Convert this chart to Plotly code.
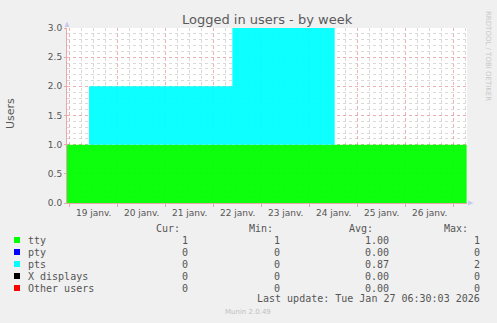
import plotly.graph_objects as go

# ---------------- data ----------------
times = ["2026-01-18 22:40", "2026-01-19 09:40", "2026-01-22 09:20",
         "2026-01-24 12:30", "2026-01-27 06:30"]
tty = [1, 1, 1, 1, 1]
pty = [0, 0, 0, 0, 0]
pts = [0, 1, 2, 0, 0]
xdisp = [0, 0, 0, 0, 0]
other = [0, 0, 0, 0, 0]

series_names = ["tty", "pty", "pts", "X displays", "Other users"]
series_colors = ["#00FF00", "#0000FF", "#00FFFF", "#000000", "#FF0000"]
fill_colors = ["rgba(0,255,0,0.95)", "rgba(0,0,255,0.95)", "rgba(0,255,255,0.95)",
               "rgba(0,0,0,0.95)", "rgba(255,0,0,0.95)"]
cur_vals = ["1", "0", "0", "0", "0"]
min_vals = ["1", "0", "0", "0", "0"]
avg_vals = ["1.00", "0.00", "0.87", "0.00", "0.00"]
max_vals = ["1", "0", "2", "0", "0"]

day_ticks = ["2026-01-%02d 12:00" % d for d in range(19, 27)]
day_labels = ["%d janv." % d for d in range(19, 27)]
x_range = ["2026-01-18 22:40", "2026-01-27 06:40"]

# ---------------- layout geometry ----------------
W, H = 497, 323
L, R, T, B = 67, 467, 28, 203
PW, PH = R - L, B - T


def px(x):
    return (x - L) / PW


def py(y):
    return (B - y) / PH


TXT = "#555555"
MONO = "DejaVu Sans Mono"
SANS = "DejaVu Sans"
MAJ = "rgba(225,120,120,0.6)"
MIN = "rgba(185,185,185,0.55)"

fig = go.Figure()
for name, vals, fc in zip(series_names, [tty, pty, pts, xdisp, other], fill_colors):
    fig.add_trace(go.Scatter(
        x=times, y=vals, name=name, mode="lines", stackgroup="one",
        line=dict(width=0, shape="hv"), fillcolor=fc, showlegend=False,
        hoverinfo="skip"))

# an invisible trace on the label axis so it renders
fig.add_trace(go.Scatter(x=x_range, y=[0, 0], xaxis="x2", mode="lines",
                         line=dict(width=0), showlegend=False, hoverinfo="skip"))

fig.update_layout(
    width=W, height=H,
    margin=dict(l=L, r=W - R, t=T, b=H - B, pad=0),
    paper_bgcolor="#F0F0F0", plot_bgcolor="#FFFFFF",
    showlegend=False,
    xaxis=dict(
        type="date", range=x_range, tick0="2026-01-19 00:00", dtick=86400000,
        showticklabels=False, ticks="outside", ticklen=3, tickcolor=MAJ,
        showgrid=True, gridcolor=MAJ, griddash="dot", gridwidth=1,
        minor=dict(dtick=21600000, tick0="2026-01-19 00:00", showgrid=True,
                   gridcolor=MIN, griddash="dot", gridwidth=1),
        showline=True, linecolor=MAJ, linewidth=1, zeroline=False, fixedrange=True,
    ),
    xaxis2=dict(
        type="date", range=x_range, overlaying="x", side="bottom",
        tickmode="array", tickvals=day_ticks, ticktext=day_labels,
        ticks="", showgrid=False, showline=False, zeroline=False,
        tickfont=dict(family=SANS, size=9, color=TXT), ticklabelstandoff=3,
    ),
    yaxis=dict(
        range=[0, 3], dtick=0.5, tickformat=".1f",
        tickfont=dict(family=SANS, size=9, color=TXT),
        ticks="outside", ticklen=2, tickcolor=MAJ,
        showgrid=True, gridcolor=MAJ, griddash="dot", gridwidth=1,
        minor=dict(dtick=0.1, showgrid=True, gridcolor=MIN, griddash="dot", gridwidth=1),
        showline=True, linecolor=MAJ, linewidth=1, zeroline=False, fixedrange=True,
    ),
)

ann = []
# title
ann.append(dict(text="Logged in users - by week", x=0.5, xref="paper", y=py(20), yref="paper",
                xanchor="center", yanchor="middle", showarrow=False,
                font=dict(family=SANS, size=13, color="#5a5a5a")))
# y axis title
ann.append(dict(text="Users", x=px(10), xref="paper", y=py(114), yref="paper",
                xanchor="center", yanchor="middle", showarrow=False, textangle=-90,
                font=dict(family=SANS, size=11, color=TXT)))
# rrdtool watermark
ann.append(dict(text="RRDTOOL / TOBI OETIKER", x=px(488), xref="paper", y=py(56), yref="paper",
                xanchor="center", yanchor="middle", showarrow=False, textangle=90,
                font=dict(family=SANS, size=7, color="#C8C8C8")))
# munin version
ann.append(dict(text="Munin 2.0.49", x=px(248), xref="paper", y=py(312), yref="paper",
                xanchor="center", yanchor="middle", showarrow=False,
                font=dict(family=SANS, size=7, color="#C0C0C0")))

# legend headers
for txt, xr in [("Cur:", 182), ("Min:", 275), ("Avg:", 375), ("Max:", 470)]:
    ann.append(dict(text=txt, x=px(xr), xref="paper", y=py(228.5), yref="paper",
                    xanchor="right", yanchor="middle", showarrow=False,
                    font=dict(family=MONO, size=10, color=TXT)))

shapes = []
for i, name in enumerate(series_names):
    yc = 240 + 12 * i
    shapes.append(dict(type="rect", xref="paper", yref="paper",
                       x0=px(14), x1=px(20), y0=py(yc + 3), y1=py(yc - 3),
                       fillcolor=series_colors[i], line=dict(width=0)))
    ann.append(dict(text=name, x=px(26), xref="paper", y=py(yc), yref="paper",
                    xanchor="left", yanchor="middle", showarrow=False,
                    font=dict(family=MONO, size=10, color=TXT)))
    for vals, xr in [(cur_vals, 189.5), (min_vals, 282), (avg_vals, 390.5), (max_vals, 482)]:
        ann.append(dict(text=vals[i], x=px(xr), xref="paper", y=py(yc), yref="paper",
                        xanchor="right", yanchor="middle", showarrow=False,
                        font=dict(family=MONO, size=10, color=TXT)))

ann.append(dict(text="Last update: Tue Jan 27 06:30:03 2026", x=px(482), xref="paper",
                y=py(298.5), yref="paper", xanchor="right", yanchor="middle", showarrow=False,
                font=dict(family=MONO, size=10, color=TXT)))

# axis arrows
ARW = "#C8C8F0"
shapes.append(dict(type="path", xref="paper", yref="paper",
                   path="M %f %f L %f %f L %f %f Z" % (px(64.5), py(27), px(69.5), py(27), px(67), py(21.5)),
                   fillcolor=ARW, line=dict(width=0)))
shapes.append(dict(type="path", xref="paper", yref="paper",
                   path="M %f %f L %f %f L %f %f Z" % (px(468), py(200.5), px(468), py(205.5), px(473.5), py(203)),
                   fillcolor=ARW, line=dict(width=0)))

fig.update_layout(annotations=ann, shapes=shapes)
fig.write_html("out.html")
